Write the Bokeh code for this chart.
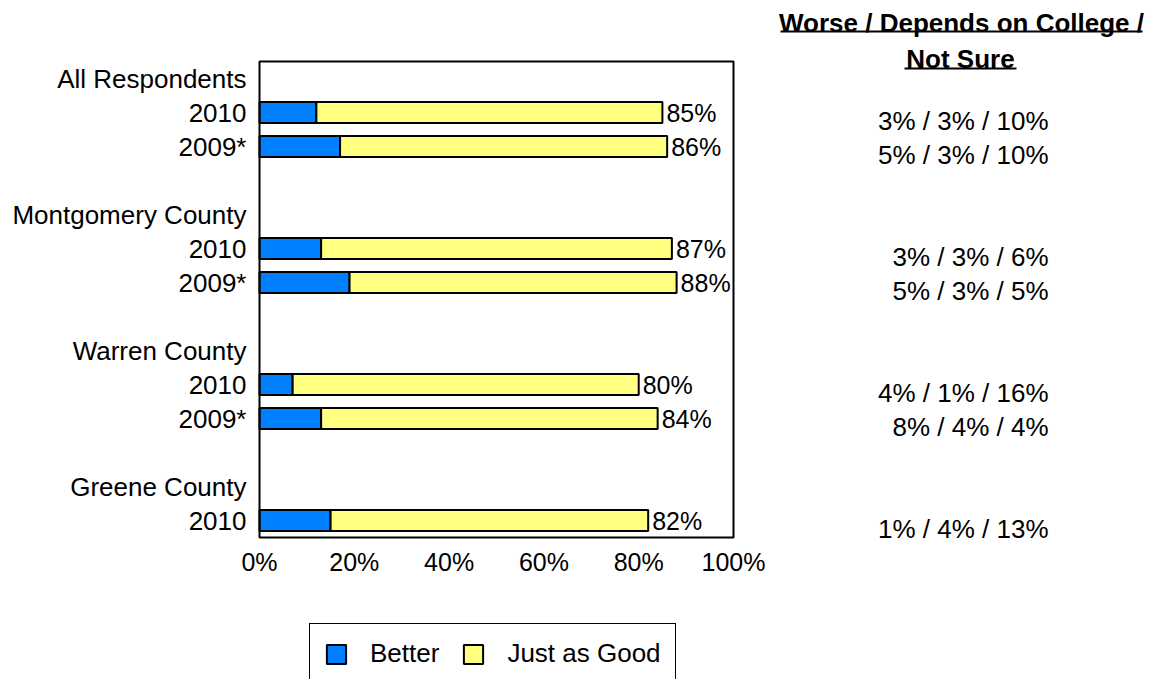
from bokeh.plotting import figure
from bokeh.models import (ColumnDataSource, LabelSet, Legend, LegendItem, Range1d,
                          FixedTicker, PrintfTickFormatter, BoxAnnotation)
from bokeh.core.properties import value
from bokeh.embed import file_html
from bokeh.resources import INLINE

# ---------------- data ----------------
groups = ["All Respondents", "Montgomery County", "Warren County", "Greene County"]
row_group = ["All Respondents", "All Respondents", "Montgomery County", "Montgomery County",
             "Warren County", "Warren County", "Greene County"]
row_year = ["2010", "2009*", "2010", "2009*", "2010", "2009*", "2010"]
better = [12, 17, 13, 19, 7, 13, 15]
just_as_good = [73, 69, 74, 69, 73, 71, 67]
total = [85, 86, 87, 88, 80, 84, 82]
worse = [3, 5, 3, 5, 4, 8, 1]
depends = [3, 3, 3, 3, 1, 4, 4]
not_sure = [10, 10, 6, 5, 16, 4, 13]
x_ticks = [0, 20, 40, 60, 80, 100]
series_names = ["Better", "Just as Good"]
header_lines = ["Worse / Depends on College /", "Not Sure"]

FONT = "Liberation Sans"
BLUE = "#0080FF"
YELLOW = "#FFFF80"

# ---------------- slot layout (group header, rows, blank) ----------------
slots = [0] * len(row_group)
overrides = {}
s = 0
for g in groups:
    overrides[s] = g
    s += 1
    for i, rg in enumerate(row_group):
        if rg == g:
            slots[i] = s
            overrides[s] = row_year[i]
            s += 1
    s += 1
last_slot = max(slots)

# ---------------- geometry (pixels) ----------------
TOTAL_W = 1151
TOTAL_H = 679
LEFT = 259          # page x of 0 %
BOX_TOP = 61        # page y of the top of the bar area
BOX_W = 474         # px for 0..100 %
BOX_H = 476         # px for all slots
SLOT_PX = BOX_H / (last_slot + 1)
PX_PER_PCT = BOX_W / 100.0

x_min = -LEFT / PX_PER_PCT
x_max = (TOTAL_W - LEFT) / PX_PER_PCT
y_top = -0.5 - BOX_TOP / SLOT_PX
y_bottom = y_top + TOTAL_H / SLOT_PX


def xpx(px):  # page x -> data x
    return x_min + px / PX_PER_PCT


def ypx(px):  # page y -> data y (slot units)
    return y_top + px / SLOT_PX


src = ColumnDataSource(dict(
    y=slots,
    better=better,
    jag_right=[b + j for b, j in zip(better, just_as_good)],
    total=total,
    total_txt=[f"{t}%" for t in total],
    note_y=[v + 0.25 for v in slots],
    note_txt=[f"{w}% / {d}% / {n}%" for w, d, n in zip(worse, depends, not_sure)],
))

p = figure(frame_width=TOTAL_W, frame_height=TOTAL_H, min_border=0,
           x_range=Range1d(x_min, x_max), y_range=Range1d(y_bottom, y_top),
           output_backend="svg", toolbar_location=None,
           background_fill_color="white", border_fill_color="white")

p.outline_line_color = None
p.xgrid.visible = False
p.ygrid.visible = False

BAR_H = 0.62
r1 = p.hbar(y="y", left=0, right="better", height=BAR_H, source=src,
            fill_color=BLUE, line_color="black", line_width=2)
r2 = p.hbar(y="y", left="better", right="jag_right", height=BAR_H, source=src,
            fill_color=YELLOW, line_color="black", line_width=2)

# axes, pinned to the edges of the bar area
xa = p.xaxis[0]
xa.fixed_location = last_slot + 0.5
xa.ticker = FixedTicker(ticks=x_ticks)
xa.formatter = PrintfTickFormatter(format="%d%%")
xa.major_label_text_font = FONT
xa.major_label_text_font_size = "25px"
xa.major_label_text_color = "black"
xa.major_tick_line_color = None
xa.major_tick_out = 0
xa.major_tick_in = 0
xa.minor_tick_line_color = None
xa.minor_tick_out = 0
xa.axis_line_color = None
xa.major_label_standoff = 10

ya = p.yaxis[0]
ya.fixed_location = 0
ya.ticker = FixedTicker(ticks=list(overrides.keys()))
ya.major_label_overrides = overrides
ya.major_label_text_font = FONT
ya.major_label_text_font_size = "26px"
ya.major_label_text_color = "black"
ya.major_tick_line_color = None
ya.major_tick_out = 0
ya.major_tick_in = 0
ya.minor_tick_line_color = None
ya.minor_tick_out = 0
ya.axis_line_color = None
ya.major_label_standoff = 13

# plot-area box spanning 0..100 %
p.add_layout(BoxAnnotation(left=0, right=100, top=-0.5, bottom=last_slot + 0.5,
                           fill_alpha=0, fill_color=None,
                           line_color="black", line_width=2, line_alpha=1))

# totals at bar ends
p.add_layout(LabelSet(x="total", y="y", text="total_txt", source=src,
                      x_offset=4, text_baseline="middle", text_align="left",
                      text_font=value(FONT), text_font_size="25px", text_color="black",
                      background_fill_color="white"))

# right-hand notes: Worse / Depends on College / Not Sure
p.text(x=xpx(1048), y="note_y", text="note_txt", source=src,
       text_align="right", text_baseline="middle",
       text_font=value(FONT), text_font_size="26px", text_color="black")

hdr_src = ColumnDataSource(dict(
    x=[xpx(961), xpx(960)],
    y=[ypx(22), ypx(58)],
    text=header_lines,
))
p.text(x="x", y="y", text="text", source=hdr_src, text_align="center", text_baseline="middle",
       text_font=value(FONT), text_font_size="26px", text_font_style="bold", text_color="black")
p.segment(x0=[xpx(780), xpx(904)], y0=[ypx(31), ypx(68)],
          x1=[xpx(1142), xpx(1016)], y1=[ypx(31), ypx(68)],
          line_color="black", line_width=2)

# legend below the bar area (bottom edge runs past the page like the original)
legend = Legend(items=[LegendItem(label=series_names[0], renderers=[r1]),
                       LegendItem(label=series_names[1], renderers=[r2])],
                orientation="horizontal", location=(309, -5),
                label_text_font=FONT, label_text_font_size="26px", label_text_color="black",
                glyph_width=24, glyph_height=24, label_standoff=22, spacing=22,
                padding=14, margin=0,
                border_line_color="black", border_line_width=1.5, border_line_alpha=1,
                background_fill_color="white", background_fill_alpha=1)
p.add_layout(legend, "center")

open("out.html", "w").write(file_html(p, INLINE))
